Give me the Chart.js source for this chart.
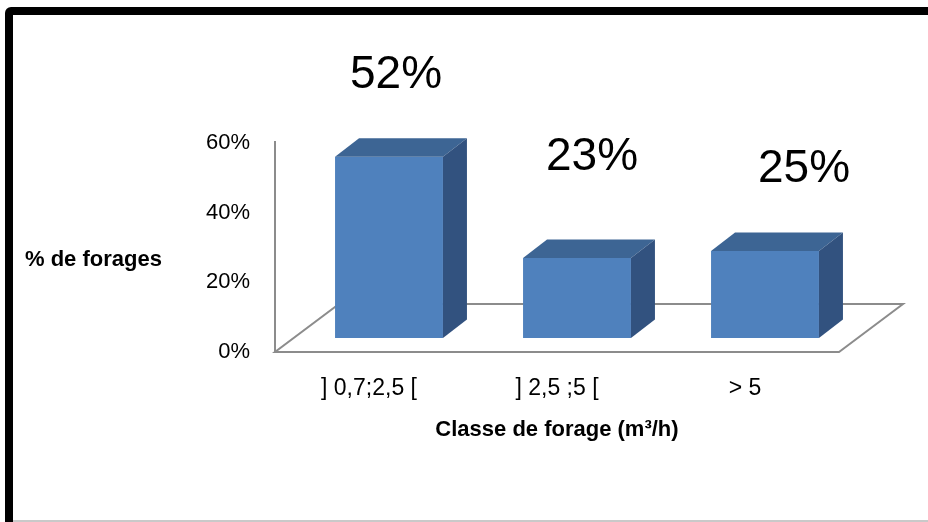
<!DOCTYPE html>
<html>
<head>
<meta charset="utf-8">
<script src="https://cdn.jsdelivr.net/npm/chart.js@4/dist/chart.umd.min.js"></script>
<style>
  html, body { margin: 0; padding: 0; background: #fff; }
  #wrap { position: relative; width: 928px; height: 522px; overflow: hidden; }
  #frame {
    position: absolute; left: 5px; top: 7px; width: 1100px; height: 700px;
    border: 8px solid #000; border-radius: 6px; pointer-events: none;
  }
  #bottomLine {
    position: absolute; left: 13px; top: 520px; width: 915px; height: 2px;
    background: #c9c9c9;
  }
</style>
</head>
<body>
<div id="wrap">
  <canvas id="chart" width="928" height="522"></canvas>
  <div id="frame"></div>
  <div id="bottomLine"></div>
</div>
<script>
// Data
const categories = ['] 0,7;2,5 [', '] 2,5 ;5 [', '> 5'];
const shares = [52, 23, 25];           // % de forages
const yTicks = [0, 20, 40, 60];
const yTitle = '% de forages';
const xTitle = 'Classe de forage (m³/h)';

// Look
const FONT = "'Liberation Sans', Arial, sans-serif";
const FRONT = '#4f81bd';
const TOP = '#3d6594';
const SIDE = '#32527f';
const LINE = '#8c8c8c';

// depth of the bars (px) and where the floor sits around them
const barDepth = { dx: 24, dy: -18.5 };
const floorFront = { dx: -20, dy: 14 };
const floorBack = { dx: 44, dy: -34 };

// Floor, axis line and titles, drawn behind the bars
const floorPlugin = {
    id: 'floor3d',
    beforeDatasetsDraw(chart) {
        const { ctx, chartArea: a, scales } = chart;
        const b = a.bottom;
        const fl = [
            [a.left + floorFront.dx, b + floorFront.dy],
            [a.right + floorFront.dx, b + floorFront.dy],
            [a.right + floorBack.dx, b + floorBack.dy],
            [a.left + floorBack.dx, b + floorBack.dy]
        ];
        ctx.save();
        ctx.beginPath();
        ctx.moveTo(fl[0][0], fl[0][1]);
        fl.slice(1).forEach(p => ctx.lineTo(p[0], p[1]));
        ctx.closePath();
        ctx.fillStyle = '#fff';
        ctx.fill();
        ctx.strokeStyle = LINE;
        ctx.lineWidth = 2;
        ctx.stroke();

        // vertical axis line on the front plane
        const topY = scales.y.getPixelForValue(yTicks[yTicks.length - 1]) + floorFront.dy - 2;
        ctx.beginPath();
        ctx.moveTo(fl[0][0], fl[0][1]);
        ctx.lineTo(fl[0][0], topY);
        ctx.stroke();

        // titles
        ctx.fillStyle = '#000';
        ctx.font = 'bold 22px ' + FONT;
        ctx.textBaseline = 'middle';
        ctx.textAlign = 'left';
        ctx.fillText(yTitle, 25, 260);
        ctx.textAlign = 'center';
        ctx.fillText(xTitle, (a.left + a.right) / 2 + floorFront.dx, 430);
        ctx.restore();
    }
};

// Top and side faces of each bar + value labels
const boxPlugin = {
    id: 'box3d',
    afterDatasetsDraw(chart, args, opts) {
        const { ctx } = chart;
        const meta = chart.getDatasetMeta(0);
        const { dx, dy } = barDepth;
        ctx.save();
        meta.data.forEach((bar, i) => {
            const half = bar.width / 2;
            const l = bar.x - half, r = bar.x + half;
            const t = bar.y, btm = bar.base;

            ctx.fillStyle = TOP;
            ctx.beginPath();
            ctx.moveTo(l, t);
            ctx.lineTo(l + dx, t + dy);
            ctx.lineTo(r + dx, t + dy);
            ctx.lineTo(r, t);
            ctx.closePath();
            ctx.fill();

            ctx.fillStyle = SIDE;
            ctx.beginPath();
            ctx.moveTo(r, t);
            ctx.lineTo(r + dx, t + dy);
            ctx.lineTo(r + dx, btm + dy);
            ctx.lineTo(r, btm);
            ctx.closePath();
            ctx.fill();

            const shift = opts.labelShift[i];
            ctx.fillStyle = '#000';
            ctx.font = '46px ' + FONT;
            ctx.textAlign = 'center';
            ctx.textBaseline = 'middle';
            ctx.fillText(shares[i] + '%', bar.x + shift[0], t + shift[1]);
        });
        ctx.restore();
    }
};

new Chart(document.getElementById('chart'), {
    type: 'bar',
    data: {
        labels: categories,
        datasets: [{
            data: shares,
            backgroundColor: FRONT,
            borderWidth: 0,
            barPercentage: 0.574,
            categoryPercentage: 1
        }]
    },
    options: {
        responsive: false,
        animation: false,
        events: [],
        layout: { padding: { top: 129, right: 69, left: 0, bottom: 0 } },
        plugins: {
            legend: { display: false },
            tooltip: { enabled: false },
            box3d: { labelShift: [[7, -82], [15, -101], [39, -82]] }
        },
        scales: {
            y: {
                min: 0,
                max: 60,
                afterFit(scale) { scale.width = 295; },
                afterBuildTicks(scale) { scale.ticks = yTicks.map(v => ({ value: v })); },
                grid: { display: false, drawTicks: false },
                border: { display: false },
                ticks: {
                    padding: 45,
                    labelOffset: 14,
                    color: '#000',
                    font: { family: FONT, size: 22 },
                    callback: v => v + '%'
                }
            },
            x: {
                afterFit(scale) { scale.height = 184; },
                grid: { display: false, drawTicks: false },
                border: { display: false },
                ticks: {
                    padding: 37,
                    labelOffset: -20,
                    maxRotation: 0,
                    autoSkip: false,
                    color: '#000',
                    font: { family: FONT, size: 23 }
                }
            }
        }
    },
    plugins: [floorPlugin, boxPlugin]
});
</script>
</body>
</html>
